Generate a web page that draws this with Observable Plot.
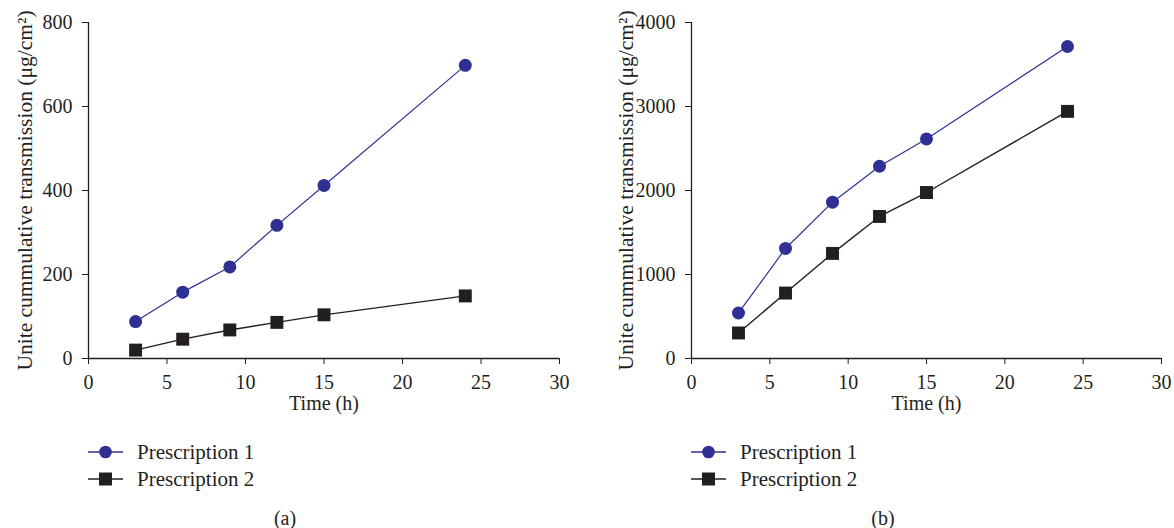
<!DOCTYPE html>
<html><head><meta charset="utf-8">
<script src="https://cdn.jsdelivr.net/npm/d3@7"></script>
<script src="https://cdn.jsdelivr.net/npm/@observablehq/plot@0.6"></script>
<style>
html,body{margin:0;padding:0;background:#fff;}
body{width:1174px;height:528px;overflow:hidden;position:relative;font-family:"Liberation Serif",serif;color:#231f20;}
.panel{position:absolute;top:0;}
.row{position:absolute;display:flex;align-items:center;white-space:nowrap;font-size:21px;height:22px;}
.row svg{margin-right:14px;}
.cap{position:absolute;font-size:20px;transform:translate(-50%,-50%);}
</style></head><body>
<div id="a" class="panel" style="left:0px"></div>
<div id="b" class="panel" style="left:600px"></div>
<div id="legA"></div>
<div id="legB"></div>
<div class="cap" style="left:285px;top:518px">(a)</div>
<div class="cap" style="left:883px;top:518px">(b)</div>
<script>
// ---- data ----
const hours = [3, 6, 9, 12, 15, 24];
const seriesNames = ["Prescription 1", "Prescription 2"];
const aP1 = [88, 158, 218, 317, 412, 698];
const aP2 = [20, 46, 68, 86, 104, 149];
const bP1 = [542, 1310, 1861, 2289, 2614, 3714];
const bP2 = [304, 779, 1251, 1691, 1976, 2942];
const xTicks = [0, 5, 10, 15, 20, 25, 30];
const yTicksA = [0, 200, 400, 600, 800];
const yTicksB = [0, 1000, 2000, 3000, 4000];
const yLabel = "Unite cummulative transmission (\u03bcg/cm\u00b2)";
const xLabel = "Time (h)";

const blue = "#2e3192";
const ink = "#231f20";

function chart({p1, p2, yDomain, yTicks, width, marginLeft, marginRight, yLabelDx, xLabelDx}) {
  const r1 = hours.map((h, i) => ({h, v: p1[i]}));
  const r2 = hours.map((h, i) => ({h, v: p2[i]}));
  return Plot.plot({
    width, height: 420,
    marginLeft, marginRight, marginTop: 22, marginBottom: 62,
    style: {fontFamily: "'Liberation Serif', serif", fontSize: "20px", color: ink, background: "white", overflow: "visible"},
    x: {domain: [0, 30], label: null},
    y: {domain: yDomain, label: null},
    marks: [
      Plot.axisX({ticks: xTicks, tickFormat: d => String(d), tickSize: 6, tickPadding: 10, label: null, stroke: ink, fill: ink, fontSize: 20}),
      Plot.axisY({ticks: yTicks, tickFormat: d => String(d), tickSize: 6, tickPadding: 10, label: null, stroke: ink, fill: ink, fontSize: 20}),
      Plot.ruleX([0], {stroke: ink, strokeWidth: 1.3}),
      Plot.ruleY([0], {stroke: ink, strokeWidth: 1.3}),
      Plot.line(r1, {x: "h", y: "v", stroke: blue, strokeWidth: 1.2}),
      Plot.line(r2, {x: "h", y: "v", stroke: ink, strokeWidth: 1.4}),
      Plot.dot(r1, {x: "h", y: "v", r: 6.5, fill: blue, stroke: "none", symbol: "circle"}),
      Plot.dot(r2, {x: "h", y: "v", r: 7.3, fill: ink, stroke: "none", symbol: "square"}),
      Plot.text([yLabel], {frameAnchor: "left", textAnchor: "middle", rotate: -90, dx: yLabelDx, text: d => d, fontSize: 21.5, fill: ink}),
      Plot.text([xLabel], {frameAnchor: "bottom", textAnchor: "middle", dy: 51, dx: xLabelDx, text: d => d, fontSize: 20, fill: ink})
    ]
  });
}

document.getElementById("a").append(chart({p1: aP1, p2: aP2, yDomain: [0, 800], yTicks: yTicksA, width: 587, marginLeft: 88, marginRight: 28, yLabelDx: -63, xLabelDx: 0}));
document.getElementById("b").append(chart({p1: bP1, p2: bP2, yDomain: [0, 4000], yTicks: yTicksB, width: 574, marginLeft: 91, marginRight: 13, yLabelDx: -65, xLabelDx: 0}));

function legend(el, left) {
  const styles = [{color: blue, shape: "circle"}, {color: ink, shape: "square"}];
  seriesNames.forEach((name, i) => {
    const row = document.createElement("div");
    row.className = "row";
    row.style.left = left + "px";
    row.style.top = (441 + i * 27) + "px";
    const s = styles[i];
    const marker = s.shape === "circle"
      ? `<circle cx="17.5" cy="11" r="6.3" fill="${s.color}"/>`
      : `<rect x="11" y="4.5" width="13" height="13" fill="${s.color}"/>`;
    row.innerHTML = `<svg width="35" height="22"><line x1="0" x2="35" y1="11" y2="11" stroke="${s.color}" stroke-width="1.4"/>${marker}</svg><span>${name}</span>`;
    el.append(row);
  });
}
legend(document.getElementById("legA"), 88);
legend(document.getElementById("legB"), 691);
</script>
</body></html>
